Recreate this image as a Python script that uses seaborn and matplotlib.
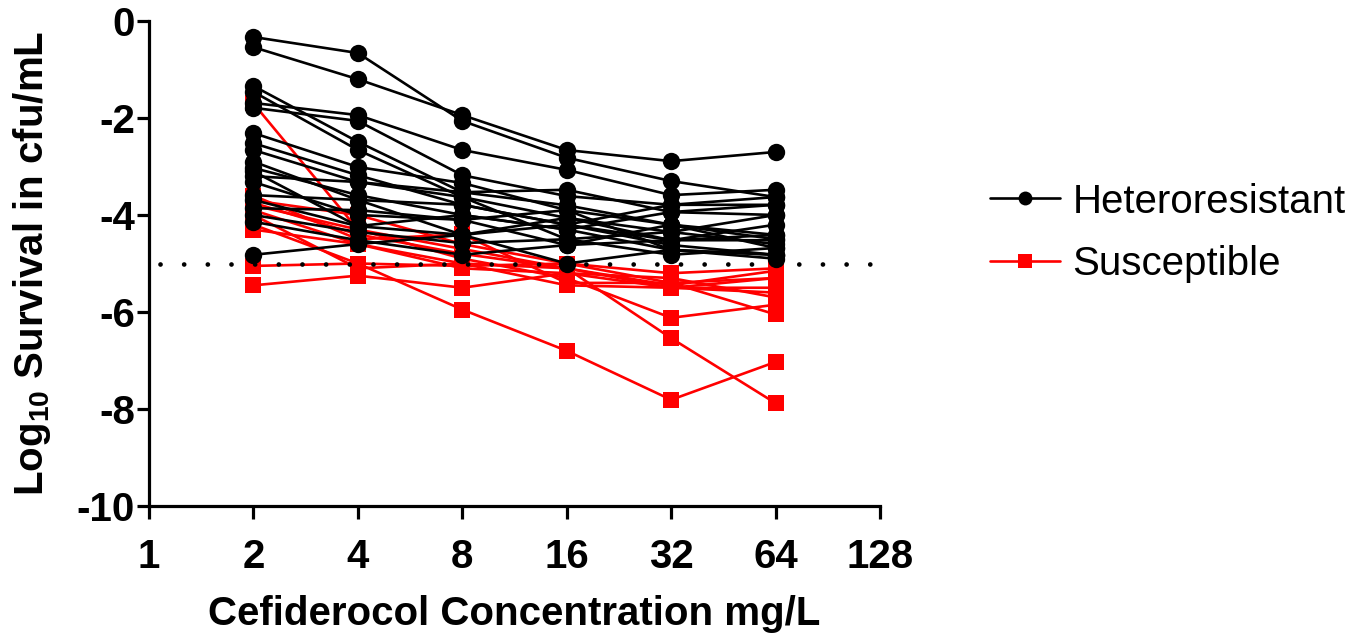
import numpy as np
import pandas as pd
import matplotlib
matplotlib.use("Agg")
import matplotlib.pyplot as plt
from matplotlib.lines import Line2D
import seaborn as sns

concentrations = [2, 4, 8, 16, 32, 64]

heteroresistant = [
    [-0.33, -0.66, -2.06, -2.82, -3.30, -3.63],
    [-0.54, -1.20, -1.94, -2.66, -2.89, -2.70],
    [-1.34, -2.49, -3.53, -3.80, -4.20, -4.50],
    [-1.46, -2.66, -3.63, -4.06, -4.35, -4.60],
    [-1.69, -1.94, -2.66, -3.07, -3.59, -3.48],
    [-1.79, -2.06, -3.18, -3.61, -3.79, -3.63],
    [-2.31, -3.01, -3.34, -3.90, -4.20, -4.68],
    [-2.52, -3.18, -3.79, -4.20, -4.52, -4.41],
    [-2.66, -3.32, -3.53, -3.48, -3.94, -3.79],
    [-3.03, -3.59, -4.00, -4.30, -4.72, -4.82],
    [-3.20, -3.32, -3.63, -4.50, -4.35, -4.00],
    [-3.32, -4.00, -4.10, -4.62, -4.52, -4.20],
    [-3.59, -3.69, -3.79, -4.20, -3.79, -3.79],
    [-3.69, -4.23, -4.41, -4.06, -4.52, -4.52],
    [-3.86, -3.90, -4.10, -3.90, -4.72, -4.82],
    [-4.00, -4.35, -4.58, -4.50, -4.82, -4.68],
    [-4.14, -4.52, -4.82, -4.62, -4.20, -4.41],
    [-4.82, -4.60, -4.41, -5.00, -4.72, -4.90],
    [-3.10, -4.23, -4.00, -4.30, -3.94, -4.00],
    [-2.90, -3.69, -4.41, -4.20, -4.62, -4.82],
]

susceptible = [
    [-1.70, -4.30, -4.70, -5.10, -5.50, -5.60],
    [-3.70, -4.00, -4.60, -5.00, -5.40, -5.30],
    [-3.80, -4.30, -4.90, -5.30, -6.12, -5.85],
    [-4.20, -5.00, -5.95, -6.80, -7.81, -7.03],
    [-4.30, -4.60, -5.00, -5.10, -6.54, -7.88],
    [-5.45, -5.25, -5.50, -5.20, -5.50, -5.30],
    [-5.05, -5.00, -5.05, -5.00, -5.20, -5.10],
    [-3.60, -4.50, -4.40, -5.40, -5.40, -6.05],
    [-3.90, -4.60, -5.10, -5.20, -5.30, -5.70],
    [-4.00, -5.10, -5.00, -5.45, -5.50, -5.50],
    [-3.75, -4.40, -4.80, -5.10, -5.45, -5.15],
]

detection_limit = -5
x_ticks = [1, 2, 4, 8, 16, 32, 64, 128]
y_ticks = [0, -2, -4, -6, -8, -10]
group_labels = ["Heteroresistant", "Susceptible"]
group_colors = {"Heteroresistant": "black", "Susceptible": "#ff0000"}
group_markers = {"Heteroresistant": "o", "Susceptible": "s"}


def to_long(series, group):
    rows = []
    for i, vals in enumerate(series):
        for c, v in zip(concentrations, vals):
            rows.append({"conc": c, "survival": v, "group": group, "isolate": f"{group}_{i}"})
    return rows


df_h = pd.DataFrame(to_long(heteroresistant, "Heteroresistant"))
df_s = pd.DataFrame(to_long(susceptible, "Susceptible"))

sns.set_theme(style="ticks")
plt.rcParams["font.family"] = ["Liberation Sans", "DejaVu Sans"]
plt.rcParams["text.color"] = "black"
plt.rcParams["axes.labelcolor"] = "black"
plt.rcParams["mathtext.fontset"] = "custom"
plt.rcParams["mathtext.rm"] = "Liberation Sans:bold"
plt.rcParams["mathtext.bf"] = "Liberation Sans:bold"
plt.rcParams["mathtext.it"] = "Liberation Sans:bold"

fig = plt.figure(figsize=(13.64, 6.4), dpi=100)
ax = fig.add_axes([149 / 1364, 1 - 506 / 640, (880 - 149) / 1364, (506 - 21) / 640])

for df, grp in [(df_s, "Susceptible"), (df_h, "Heteroresistant")]:
    sns.lineplot(
        data=df, x="conc", y="survival", units="isolate", estimator=None,
        color=group_colors[grp], marker=group_markers[grp],
        markersize=12.5 if grp == "Heteroresistant" else 11.5,
        markeredgewidth=0, linewidth=1.9, legend=False, ax=ax, sort=False,
    )

ax.plot([1.075, 120], [detection_limit, detection_limit], color="black",
        linestyle=(0, (0.01, 5.0)), linewidth=3.4, dash_capstyle="round")

ax.set_xscale("log", base=2)
ax.set_xlim(1, 128)
ax.set_ylim(-10, 0)
ax.set_xticks(x_ticks)
ax.set_xticklabels([str(t) for t in x_ticks])
ax.minorticks_off()
ax.set_yticks(y_ticks)
ax.set_yticklabels([str(t) for t in y_ticks])

for s in ["top", "right"]:
    ax.spines[s].set_visible(False)
for s in ["left", "bottom"]:
    ax.spines[s].set_linewidth(2.3)
    ax.spines[s].set_color("black")

ax.tick_params(axis="both", direction="out", length=9, width=2.3, color="black",
               labelsize=29, labelcolor="black")
ax.tick_params(axis="x", pad=14)
ax.tick_params(axis="y", pad=1)
for lab in ax.get_xticklabels() + ax.get_yticklabels():
    lab.set_fontweight("bold")

ax.set_xlabel("Cefiderocol Concentration mg/L", fontsize=29, fontweight="bold",
              labelpad=14, color="black")
ax.set_ylabel(r"$\mathbf{Log_{10}}$ Survival in cfu/mL", fontsize=29,
              fontweight="bold", labelpad=17, color="black")

handles = [
    Line2D([], [], color=group_colors[g], marker=group_markers[g], linewidth=1.9,
           markersize=10, markeredgewidth=0)
    for g in group_labels
]
fig.legend(handles, group_labels, loc="center left", bbox_to_anchor=(990 / 1364, 1 - 233 / 640),
           frameon=False, fontsize=29, handlelength=1.75, handletextpad=0.3,
           labelspacing=0.62, borderpad=0, borderaxespad=0, labelcolor="black")

fig.savefig("out.png", dpi=100)
